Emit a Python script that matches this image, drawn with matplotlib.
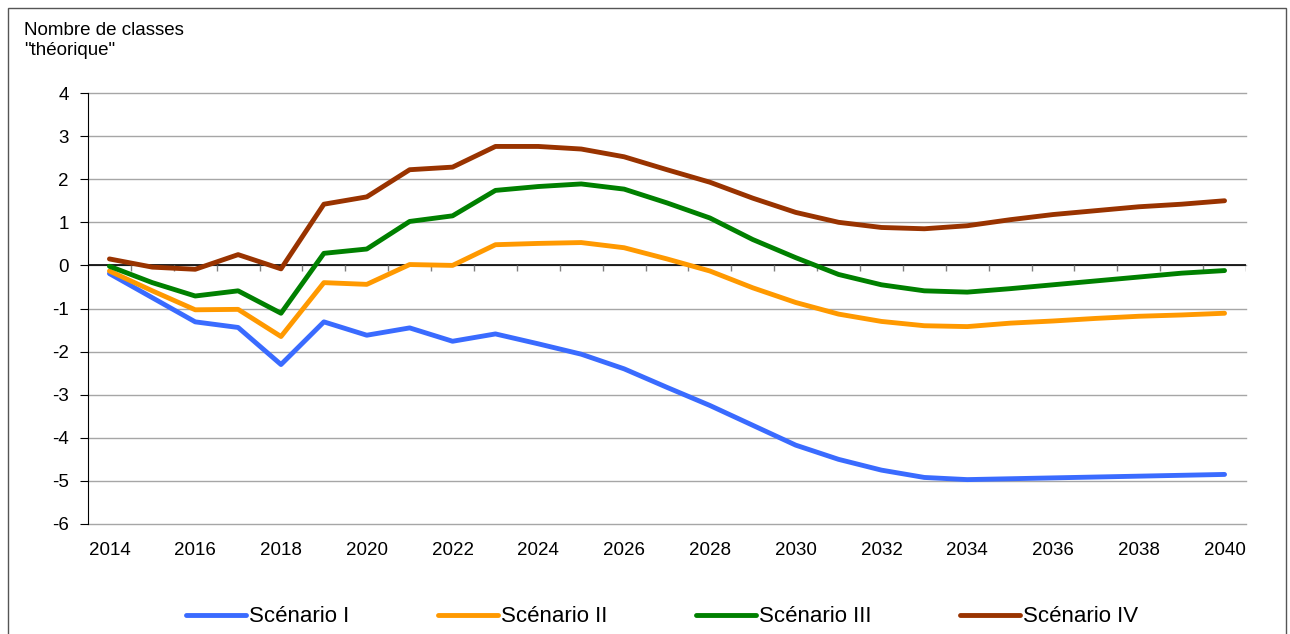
import numpy as np
import matplotlib
matplotlib.use("Agg")
import matplotlib.pyplot as plt
from matplotlib.patches import Rectangle

plt.rcParams['font.family'] = ['Liberation Sans', 'DejaVu Sans']
plt.rcParams['axes.unicode_minus'] = False

years = list(range(2014, 2041))
scen_1 = [-0.19, -0.75, -1.31, -1.44, -2.30, -1.31, -1.62, -1.45, -1.76, -1.59,
          -1.82, -2.06, -2.40, -2.83, -3.25, -3.71, -4.17, -4.50, -4.75, -4.92,
          -4.97, -4.95, -4.93, -4.91, -4.89, -4.87, -4.85]
scen_2 = [-0.13, -0.59, -1.03, -1.02, -1.65, -0.40, -0.44, 0.02, 0.00, 0.48,
          0.51, 0.53, 0.41, 0.15, -0.13, -0.52, -0.86, -1.13, -1.30, -1.40,
          -1.42, -1.34, -1.29, -1.23, -1.18, -1.15, -1.11]
scen_3 = [-0.02, -0.40, -0.71, -0.59, -1.11, 0.28, 0.38, 1.02, 1.15, 1.74,
          1.83, 1.89, 1.77, 1.45, 1.10, 0.60, 0.18, -0.21, -0.45, -0.59,
          -0.62, -0.54, -0.45, -0.36, -0.27, -0.18, -0.12]
scen_4 = [0.15, -0.04, -0.09, 0.25, -0.08, 1.42, 1.59, 2.22, 2.28, 2.76,
          2.76, 2.70, 2.52, 2.22, 1.93, 1.56, 1.23, 1.00, 0.88, 0.85,
          0.92, 1.06, 1.18, 1.27, 1.36, 1.42, 1.50]
labels = ['Scénario I', 'Scénario II', 'Scénario III', 'Scénario IV']
colors = ['#3A6BFF', '#FF9900', '#008000', '#993300']

fig = plt.figure(figsize=(12.9, 6.34), dpi=100)
ax = fig.add_axes([88 / 1290, 1 - 524 / 634, (1246 - 88) / 1290, (524 - 93) / 634])

# cadre autour du graphique
fig.patches.append(Rectangle((8 / 1290, -0.02), (1286 - 8) / 1290, 1.02 - 8 / 634,
                             transform=fig.transFigure, fill=False,
                             edgecolor='#555555', linewidth=1))

for s, lab, c in zip([scen_1, scen_2, scen_3, scen_4], labels, colors):
    ax.plot(years, s, color=c, linewidth=3.5, label=lab, solid_capstyle='round', zorder=3)

ax.set_xlim(2013.5, 2040.5)
ax.set_ylim(-6, 4)
ax.set_yticks(range(-6, 5))
ax.set_xticks(range(2014, 2041, 2))
ax.grid(axis='y', color='#A6A6A6', linewidth=1, clip_on=False)
ax.set_axisbelow(True)
for sp in ['top', 'right', 'bottom']:
    ax.spines[sp].set_visible(False)
ax.spines['left'].set_color('black')
ax.tick_params(axis='y', direction='out', length=6, color='black', labelsize=13.5, pad=8)
ax.tick_params(axis='x', length=0, labelsize=13.5, pad=13)

# axe horizontal à zéro avec graduations entre les catégories
ax.axhline(0, color='black', linewidth=1.2, zorder=2)
ax.vlines(np.arange(2014.5, 2040.6, 1), -0.13, 0, color='#808080', linewidth=1, zorder=2)

fig.text(24 / 1290, 1 - 22 / 634, 'Nombre de classes\n"théorique"', fontsize=13.5,
         va='top', ha='left', linespacing=1.2)

fig.legend(loc='center', bbox_to_anchor=(662 / 1290, 1 - 617 / 634), ncol=4,
           frameon=False, fontsize=16, handlelength=2.7, handletextpad=0.12,
           columnspacing=4.0)

fig.savefig('out.png', dpi=100)
